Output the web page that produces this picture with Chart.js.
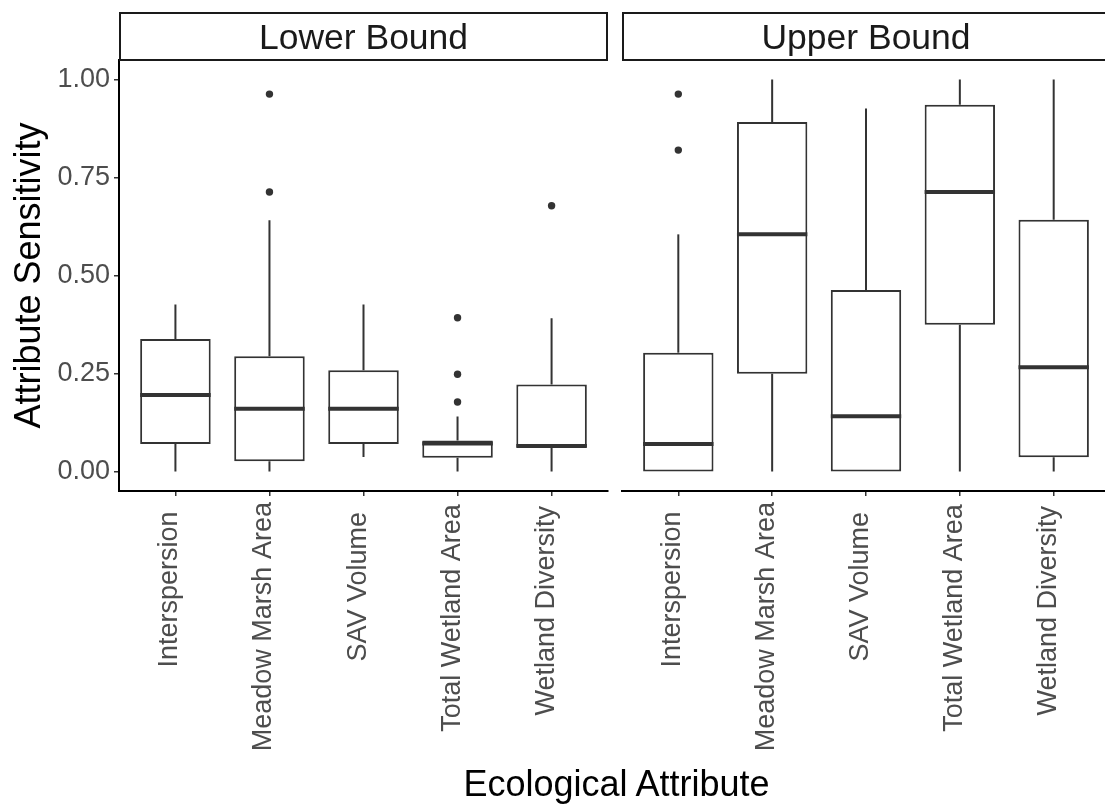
<!DOCTYPE html>
<html>
<head>
<meta charset="utf-8">
<script src="https://cdn.jsdelivr.net/npm/chart.js@4.4.1/dist/chart.umd.min.js"></script>
<style>
  html, body { margin: 0; padding: 0; background: #fff; overflow: hidden; }
  #wrap { position: relative; width: 1105px; height: 808px; overflow: hidden; background: #fff; }
  #lowerBox { position: absolute; left: 0; top: 0; width: 612px; height: 808px; }
  #upperBox { position: absolute; left: 612px; top: 0; width: 502px; height: 808px; }
  #xTitle { position: absolute; left: 0; width: 1233px; top: 763px; height: 40px; line-height: 40px;
            text-align: center; font: 36px "Liberation Sans", Arial, sans-serif; color: #000; }
</style>
</head>
<body>
<div id="wrap">
  <div id="lowerBox"><canvas id="lowerChart"></canvas></div>
  <div id="upperBox"><canvas id="upperChart"></canvas></div>
  <div id="xTitle">Ecological Attribute</div>
</div>
<script>
// Ecological attributes on the x axis of both panels
const categories = ['Interspersion', 'Meadow Marsh Area', 'SAV Volume', 'Total Wetland Area', 'Wetland Diversity'];
const panelTitles = ['Lower Bound', 'Upper Bound'];
const yTicks = [0, 0.25, 0.5, 0.75, 1];

// Lower bound: five-number summaries per attribute
const lowerMin    = [0.000, 0.000, 0.037, 0.000, 0.000];
const lowerQ1     = [0.070, 0.026, 0.070, 0.035, 0.062];
const lowerMedian = [0.195, 0.160, 0.160, 0.071, 0.065];
const lowerQ3     = [0.338, 0.294, 0.258, 0.079, 0.222];
const lowerMax    = [0.426, 0.641, 0.426, 0.140, 0.391];
const lowerOutliers = [[], [0.963, 0.713], [], [0.392, 0.248, 0.177], [0.678]];

// Upper bound: five-number summaries per attribute
const upperMin    = [0.000, 0.000, 0.000, 0.000, 0.000];
const upperQ1     = [0.000, 0.249, 0.000, 0.374, 0.036];
const upperMedian = [0.070, 0.605, 0.141, 0.713, 0.266];
const upperQ3     = [0.303, 0.892, 0.463, 0.936, 0.642];
const upperMax    = [0.605, 1.000, 0.926, 1.000, 1.000];
const upperOutliers = [[0.963, 0.820], [], [], [], []];

const INK = '#333333';
const FONT = '"Liberation Sans", Arial, sans-serif';

function boxPanel(canvasId, title, stats, outliers, showY) {
  const boxes = stats.q1.map((q, i) => [q, stats.q3[i]]);
  const points = [];
  outliers.forEach((list, i) => list.forEach(v => points.push({ x: categories[i], y: v })));

  // whiskers behind the boxes, medians on top, strip header and rotated labels
  const boxPlugin = {
    id: 'boxParts',
    beforeDatasetsDraw(chart) {
      const { ctx, scales: { x, y } } = chart;
      ctx.save();
      ctx.strokeStyle = INK;
      ctx.lineWidth = 2;
      ctx.lineCap = 'butt';
      categories.forEach((c, i) => {
        const px = x.getPixelForValue(i);
        ctx.beginPath();
        ctx.moveTo(px, y.getPixelForValue(stats.q3[i]));
        ctx.lineTo(px, y.getPixelForValue(stats.max[i]));
        ctx.moveTo(px, y.getPixelForValue(stats.q1[i]));
        ctx.lineTo(px, y.getPixelForValue(stats.min[i]));
        ctx.stroke();
      });
      ctx.restore();
    },
    afterDatasetsDraw(chart) {
      const { ctx, scales: { y } } = chart;
      const meta = chart.getDatasetMeta(0);
      ctx.save();
      ctx.strokeStyle = INK;
      ctx.lineWidth = 4;
      meta.data.forEach((bar, i) => {
        const py = y.getPixelForValue(stats.median[i]);
        ctx.beginPath();
        ctx.moveTo(bar.x - bar.width / 2, py);
        ctx.lineTo(bar.x + bar.width / 2, py);
        ctx.stroke();
      });
      ctx.restore();
    },
    afterDraw(chart) {
      const { ctx, chartArea: { left, right, top }, scales: { x } } = chart;
      ctx.save();
      // facet strip
      ctx.lineWidth = 2;
      ctx.strokeStyle = '#1a1a1a';
      ctx.fillStyle = '#fff';
      ctx.fillRect(left + 1, 13, right - left - 2, top - 13);
      ctx.strokeRect(left + 1, 13, right - left - 2, top - 13);
      ctx.fillStyle = '#1a1a1a';
      ctx.font = '35.5px ' + FONT;
      ctx.textAlign = 'center';
      ctx.textBaseline = 'alphabetic';
      ctx.fillText(title, (left + right) / 2, 49);
      // vertical category labels
      ctx.fillStyle = '#4d4d4d';
      ctx.font = '27px ' + FONT;
      ctx.textAlign = 'left';
      x.ticks.forEach((t, i) => {
        const label = categories[t.value];
        const w = ctx.measureText(label).width;
        ctx.save();
        ctx.translate(x.getPixelForTick(i), 527);
        ctx.rotate(-Math.PI / 2);
        ctx.fillText(label, -0.9 * w, 2);
        ctx.restore();
      });
      ctx.restore();
    }
  };

  return new Chart(document.getElementById(canvasId), {
    type: 'bar',
    data: {
      labels: categories,
      datasets: [
        {
          type: 'bar',
          data: boxes,
          backgroundColor: '#ffffff',
          borderColor: INK,
          borderWidth: 2,
          borderSkipped: false,
          barPercentage: 0.75,
          categoryPercentage: 1,
          order: 2
        },
        {
          type: 'scatter',
          data: points,
          pointRadius: 3.7,
          pointBackgroundColor: INK,
          pointBorderWidth: 0,
          showLine: false,
          order: 1
        }
      ]
    },
    options: {
      responsive: true,
      maintainAspectRatio: false,
      animation: false,
      events: [],
      layout: { padding: { top: 60, left: showY ? 0 : 10, right: 0, bottom: 0 } },
      plugins: { legend: { display: false }, tooltip: { enabled: false } },
      scales: {
        x: {
          type: 'category',
          offset: false,
          grid: { display: true, drawOnChartArea: false, drawTicks: true, tickLength: 5,
                  color: INK, lineWidth: 1.5, offset: false },
          border: { display: true, color: '#000', width: 2 },
          ticks: { display: false },
          afterBuildTicks: s => { s._startValue = -0.6; s._valueRange = categories.length + 0.2; },
          afterFit: s => { s.height = 317; s.paddingLeft = 0; s.paddingRight = 0; }
        },
        y: {
          type: 'linear',
          display: showY,
          min: -0.05,
          max: 1.05,
          afterBuildTicks: s => { s.ticks = yTicks.map(v => ({ value: v })); },
          ticks: {
            callback: v => Number(v).toFixed(2),
            font: { family: FONT, size: 27 },
            color: '#4d4d4d',
            padding: 4
          },
          grid: { display: true, drawOnChartArea: false, drawTicks: true, tickLength: 5,
                  color: INK, lineWidth: 1.5 },
          border: { display: true, color: '#000', width: 2 },
          title: {
            display: true,
            text: 'Attribute Sensitivity',
            font: { family: FONT, size: 36 },
            color: '#000',
            padding: { top: 8, bottom: 0 }
          },
          afterFit: s => { s.width = showY ? 119 : 0; }
        }
      }
    },
    plugins: [boxPlugin]
  });
}

boxPanel('lowerChart', panelTitles[0],
  { min: lowerMin, q1: lowerQ1, median: lowerMedian, q3: lowerQ3, max: lowerMax },
  lowerOutliers, true);
boxPanel('upperChart', panelTitles[1],
  { min: upperMin, q1: upperQ1, median: upperMedian, q3: upperQ3, max: upperMax },
  upperOutliers, false);
</script>
</body>
</html>
